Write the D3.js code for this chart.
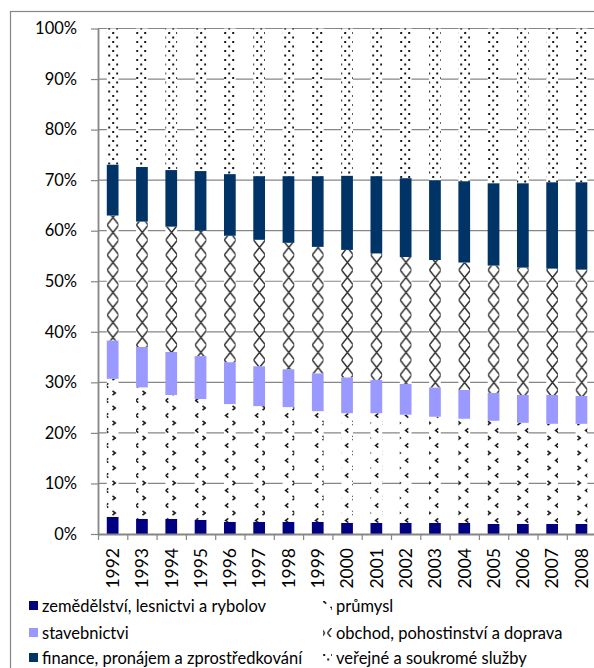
<!DOCTYPE html>
<html>
<head>
<meta charset="utf-8">
<script src="https://cdn.jsdelivr.net/npm/d3@7"></script>
<style>
  body { margin: 0; background: #fff; }
  svg { display: block; }
  text { font-family: Lato, "Open Sans", sans-serif; fill: #000; }
</style>
</head>
<body>
<svg id="chart" width="594" height="668"></svg>
<script>
// Shares of employment by sector (percent of total), 1992–2008
const years = ["1992","1993","1994","1995","1996","1997","1998","1999","2000","2001","2002","2003","2004","2005","2006","2007","2008"];
const agriculture  = [3.4, 3.0, 3.0, 2.8, 2.4, 2.4, 2.4, 2.4, 2.2, 2.2, 2.2, 2.2, 2.2, 2.0, 2.0, 2.0, 2.0];
const industry     = [27.3, 26.0, 24.5, 23.9, 23.3, 22.9, 22.7, 21.9, 21.7, 21.7, 21.4, 21.0, 20.6, 20.4, 20.0, 19.8, 19.8];
const construction = [7.6, 8.0, 8.5, 8.5, 8.3, 7.9, 7.5, 7.5, 7.1, 6.6, 6.1, 5.8, 5.7, 5.5, 5.5, 5.7, 5.5];
const trade        = [24.7, 24.8, 24.8, 24.8, 25.0, 25.0, 25.0, 25.0, 25.2, 25.0, 25.1, 25.2, 25.2, 25.2, 25.2, 25.0, 25.0];
const finance      = [10.1, 10.8, 11.2, 11.8, 12.2, 12.6, 13.2, 14.0, 14.7, 15.3, 15.6, 15.8, 16.1, 16.3, 16.7, 17.1, 17.3];
const services     = [26.9, 27.4, 28.0, 28.2, 28.8, 29.2, 29.2, 29.2, 29.1, 29.2, 29.6, 30.0, 30.2, 30.6, 30.6, 30.4, 30.4];

const seriesKeys  = ["agriculture", "industry", "construction", "trade", "finance", "services"];
const seriesNames = [
  "zemědělství, lesnictvi a rybolov",
  "průmysl",
  "stavebnictvi",
  "obchod, pohostinství a doprava",
  "finance, pronájem a zprostředkování",
  "veřejné a soukromé služby"
];
const yTicks = [0, 0.1, 0.2, 0.3, 0.4, 0.5, 0.6, 0.7, 0.8, 0.9, 1.0];

const seriesValues = { agriculture, industry, construction, trade, finance, services };
const table = years.map((yr, i) => {
  const row = { year: yr };
  seriesKeys.forEach(k => row[k] = seriesValues[k][i]);
  return row;
});

const svg = d3.select("#chart");
const plotLeft = 98, plotRight = 596.1, plotTop = 28.5, plotBottom = 534;
const axisColor = "#868686";

// chart frame
svg.append("rect")
  .attr("x", 10.5).attr("y", 11.5)
  .attr("width", 620).attr("height", 700)
  .attr("fill", "none").attr("stroke", axisColor).attr("stroke-width", 1.2);

// fill patterns
const defs = svg.append("defs");

// průmysl: small chevrons pointing right and left
const pInd = defs.append("pattern").attr("id", "pat-industry")
  .attr("patternUnits", "userSpaceOnUse").attr("width", 15).attr("height", 15);
pInd.append("rect").attr("width", 15).attr("height", 15).attr("fill", "#fff");
pInd.append("path")
  .attr("d", "M7.5,0.8 L10.3,3 L7.5,5.2 M3.3,8.3 L0.5,10.5 L3.3,12.7 M18.3,8.3 L15.5,10.5 L18.3,12.7")
  .attr("stroke", "#1e1e1e").attr("stroke-width", 1.6).attr("fill", "none");

// obchod: chain of crosses
const pTrade = defs.append("pattern").attr("id", "pat-trade")
  .attr("patternUnits", "userSpaceOnUse").attr("x", 113 - 7.325).attr("y", 0)
  .attr("width", 14.65).attr("height", 15);
pTrade.append("rect").attr("width", 14.65).attr("height", 15).attr("fill", "#fff");
pTrade.append("path")
  .attr("d", "M1.4,0 L13.25,15 M13.25,0 L1.4,15")
  .attr("stroke", "#333").attr("stroke-width", 1.5).attr("fill", "none");

// veřejné služby: staggered dots
const pServ = defs.append("pattern").attr("id", "pat-services")
  .attr("patternUnits", "userSpaceOnUse").attr("width", 8).attr("height", 9);
pServ.append("rect").attr("width", 8).attr("height", 9).attr("fill", "#fff");
[[4.2, 0.5], [0.2, 5]].forEach(([px, py]) =>
  pServ.append("rect").attr("x", px).attr("y", py).attr("width", 2).attr("height", 2).attr("fill", "#1a1a1a"));

const fills = {
  agriculture: "#000080",
  industry: "url(#pat-industry)",
  construction: "#9999FF",
  trade: "url(#pat-trade)",
  finance: "#003366",
  services: "url(#pat-services)"
};

const x = d3.scaleBand().domain(years).range([plotLeft, plotRight]).paddingInner(0.6).paddingOuter(0.3);
const y = d3.scaleLinear().domain([0, 1]).range([plotBottom, plotTop]);

// horizontal gridlines
svg.append("g").selectAll("line")
  .data(yTicks.filter(d => d > 0))
  .join("line")
  .attr("x1", plotLeft).attr("x2", plotRight)
  .attr("y1", d => y(d)).attr("y2", d => y(d))
  .attr("stroke", axisColor).attr("stroke-width", 1.2);

// stacked columns normalised to 100 %
const stacked = d3.stack().keys(seriesKeys).offset(d3.stackOffsetExpand)(table);
svg.append("g").selectAll("g")
  .data(stacked)
  .join("g")
  .attr("fill", s => fills[s.key])
  .selectAll("rect")
  .data(s => s)
  .join("rect")
  .attr("x", d => x(d.data.year))
  .attr("width", x.bandwidth())
  .attr("y", d => y(d[1]))
  .attr("height", d => y(d[0]) - y(d[1]));

// y axis
const yAxis = svg.append("g").attr("transform", `translate(${plotLeft},0)`)
  .call(d3.axisLeft(y).tickValues(yTicks).tickFormat(d3.format(".0%"))
    .tickSize(7).tickSizeOuter(0).tickPadding(14));
yAxis.select(".domain").attr("stroke", axisColor).attr("stroke-width", 1.8);
yAxis.selectAll(".tick line").attr("stroke", axisColor).attr("stroke-width", 1.2);
yAxis.selectAll(".tick text").attr("font-size", 16.5).attr("font-family", "Lato, sans-serif").attr("fill", "#000");

// x axis: boundary ticks between categories
const xEdge = d3.scaleLinear().domain([0, years.length]).range([plotLeft, plotRight]);
const xAxis = svg.append("g").attr("transform", `translate(0,${plotBottom})`)
  .call(d3.axisBottom(xEdge).tickValues(d3.range(years.length + 1)).tickFormat("")
    .tickSize(6).tickSizeOuter(0));
xAxis.select(".domain").attr("stroke", axisColor).attr("stroke-width", 1.8);
xAxis.selectAll(".tick line").attr("stroke", axisColor).attr("stroke-width", 1.2);

// x axis: rotated year labels
const xLabels = svg.append("g").attr("transform", `translate(0,${plotBottom})`)
  .call(d3.axisBottom(x).tickSize(0).tickPadding(0));
xLabels.select(".domain").remove();
xLabels.selectAll(".tick text")
  .attr("font-size", 17.5).attr("font-family", "Lato, sans-serif").attr("fill", "#000")
  .attr("transform", "rotate(-90)")
  .attr("text-anchor", "end")
  .attr("x", -14).attr("y", 0).attr("dy", "0.36em");

// legend
const legendCols = [29, 323];
const legendRows = [606, 633, 658];
const legend = svg.append("g").selectAll("g")
  .data(seriesKeys)
  .join("g")
  .attr("transform", (k, i) => `translate(${legendCols[i % 2]},${legendRows[Math.floor(i / 2)]})`);
legend.append("rect")
  .attr("x", 0).attr("y", -5).attr("width", 9).attr("height", 9)
  .attr("fill", k => fills[k]);
legend.append("text")
  .attr("x", 13).attr("y", 0).attr("dy", "0.35em")
  .attr("font-size", 16.5)
  .text((k, i) => seriesNames[i]);
</script>
</body>
</html>
